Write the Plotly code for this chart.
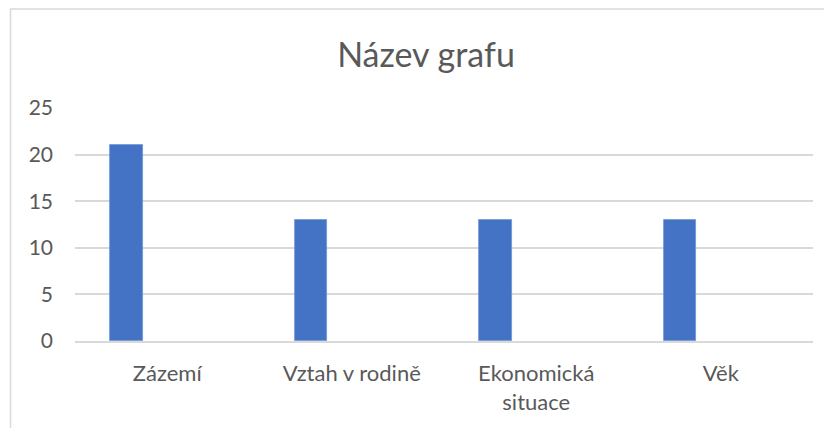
import plotly.graph_objects as go

categories = ["Zázemí", "Vztah v rodině", "Ekonomická<br>situace", "Věk"]
values = [21, 13, 13, 13]
y_ticks = [0, 5, 10, 15, 20, 25]
title_text = "Název grafu"

W, H = 832, 428
OFF = 8  # page body margin offset
L, T = 75 - OFF, 108 - OFF
pw, ph = 738, 233
R = W - L - pw
B = H - T - ph

fig = go.Figure()
fig.add_trace(go.Bar(
    x=categories, y=values,
    marker=dict(color="#4472C4", line=dict(color="#6F93D6", width=0.8)),
    width=0.176, offset=-0.309,
    showlegend=False, hoverinfo="skip",
))

border_x = (10.5 - OFF - L) / pw
border_y = (T + ph - (9 - OFF)) / ph
fig.add_shape(type="rect", xref="paper", yref="paper",
              x0=border_x, x1=2, y0=-2, y1=border_y,
              line=dict(color="#D9D9D9", width=1.5), fillcolor="rgba(0,0,0,0)", layer="below")

fig.update_layout(
    width=W, height=H,
    margin=dict(l=L, r=R, t=T, b=B),
    paper_bgcolor="white", plot_bgcolor="white",
    font=dict(family="Lato", color="#595959", size=21),
    title=dict(text=title_text, x=(426 - OFF - L) / pw, xanchor="center", xref="paper",
               y=1 - (55 - OFF) / H, yanchor="middle", yref="container",
               font=dict(family="Lato", size=34, color="#595959")),
    bargap=0,
    xaxis=dict(showgrid=False, showline=True, linecolor="#D9D9D9", linewidth=1.5,
               tickfont=dict(size=22, color="#595959"), ticks="", ticklabelstandoff=12,
               fixedrange=True),
    yaxis=dict(range=[0, 25], tickvals=y_ticks, showgrid=True, gridcolor="#D9D9D9",
               gridwidth=1.5, zeroline=False, showline=False,
               tickfont=dict(size=21, color="#595959"), ticklabelstandoff=21,
               fixedrange=True),
)

fig.write_html("out.html")
